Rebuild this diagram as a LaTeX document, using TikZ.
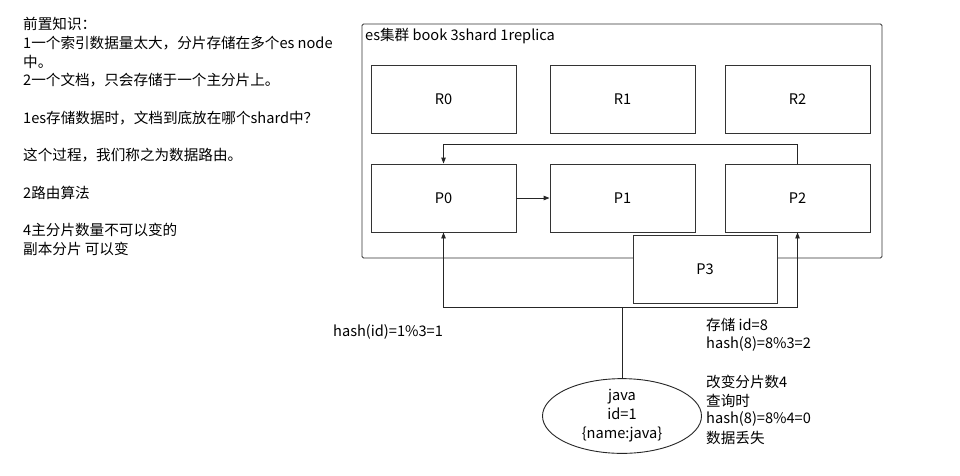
\documentclass[tikz,border=0pt]{standalone}
\usepackage{fontspec}
\setmainfont{Noto Sans CJK SC}
\usetikzlibrary{arrows.meta,shapes.geometric}
\begin{document}
\begin{tikzpicture}[x=1pt,y=-1pt,
  box/.style={draw=black!80,line width=0.9pt,minimum width=145pt,minimum height=68pt,inner sep=0pt,fill=white,font=\fontsize{14.6}{16}\selectfont},
  txt/.style={anchor=west,inner sep=0pt,font=\fontsize{14.6}{16}\selectfont},
  line/.style={draw=black!85,line width=0.9pt},
  arr/.style={line,-{Triangle[length=6pt,width=4.5pt]}}]
\useasboundingbox[fill=white] (0,0) rectangle (960,475);
% left notes
\node[txt] (n1) at (23,24) {前置知识：};
\node[txt] (n2) at (23,42.75) {1一个索引数据量太大，分片存储在多个es node};
\node[txt] (n3) at (23,61.5) {中。};
\node[txt] (n4) at (23,80.25) {2一个文档，只会存储于一个主分片上。};
\node[txt] (n5) at (23,117.75) {1es存储数据时，文档到底放在哪个shard中？};
\node[txt] (n6) at (23,155.25) {这个过程，我们称之为数据路由。};
\node[txt] (n7) at (23,192.75) {2路由算法};
\node[txt] (n8) at (23,230.25) {4主分片数量不可以变的};
\node[txt] (n9) at (23,249) {副本分片 可以变};
% cluster
\node[draw=black!80,line width=0.9pt,rounded corners=1.5pt,minimum width=520pt,minimum height=234pt,inner sep=0pt] (cluster) at (622,141) {};
\node[txt] (ctitle) at (365,36) {es集群 book 3shard 1replica};
\node[box] (R0) at (443.5,99) {R0};
\node[box] (R1) at (622.5,99) {R1};
\node[box] (R2) at (797.5,99) {R2};
\node[box] (P0) at (443.5,198) {P0};
\node[box] (P1) at (622.5,198) {P1};
\node[box] (P2) at (797.5,198) {P2};
\node[box,minimum width=144pt] (P3) at (705,269) {P3};
% document
\node[draw=black!85,line width=0.9pt,ellipse,minimum width=159pt,minimum height=72pt,inner sep=0pt,align=center,font=\fontsize{14.6}{19}\selectfont] (java) at (622,416) {java\\id=1\\\{name:java\}};
% connectors
\draw[arr] (P0.east) -- (P1.west);
\draw[arr] (P2.north) -- ++(0,-19) -| (P0.north);
\coordinate (split) at (622,307);
\draw[line] (java.north) -- (split);
\draw[arr] (split) -| (P0.south);
\draw[arr] (split) -| (P2.south);
% labels
\node[txt] (h1) at (333,332) {hash(id)=1\%3=1};
\node[txt] (s1) at (706,325) {存储 id=8};
\node[txt] (s2) at (706,343.5) {hash(8)=8\%3=2};
\node[txt] (s3) at (706,382) {改变分片数4};
\node[txt] (s4) at (706,400.5) {查询时};
\node[txt] (s5) at (706,419) {hash(8)=8\%4=0};
\node[txt] (s6) at (706,437.5) {数据丢失};
\end{tikzpicture}
\end{document}
